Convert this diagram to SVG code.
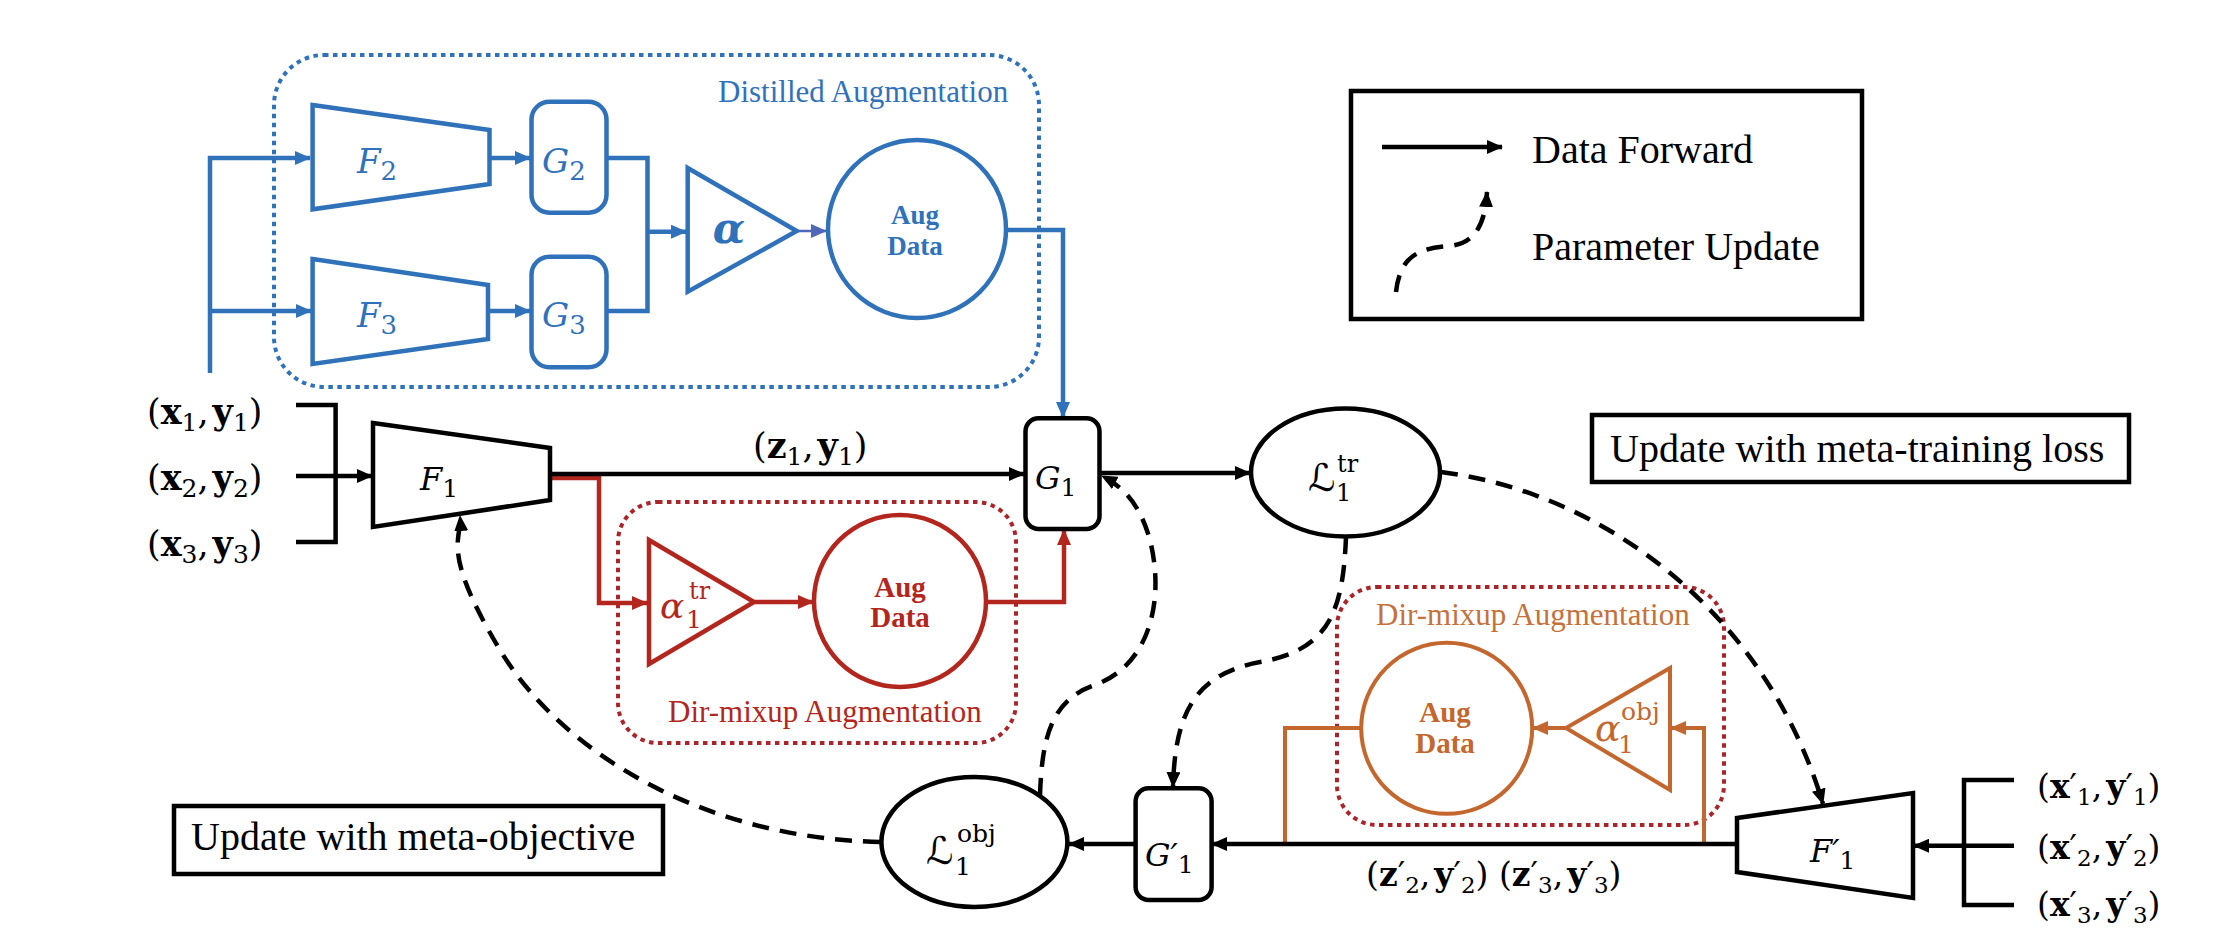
<svg xmlns="http://www.w3.org/2000/svg" width="2224" height="938" viewBox="0 0 2224 938">
<style>
.tnr{font-family:"Liberation Serif","Times New Roman",serif}
.m{font-family:"DejaVu Serif","DejaVu Sans",serif}
.it{font-style:italic}
.b{font-weight:bold}
.blk{fill:none;stroke:#000;stroke-width:4.5}
.blu{fill:none;stroke:#2f72ba;stroke-width:4.5}
.red{fill:none;stroke:#b3261e;stroke-width:4.5}
.org{fill:none;stroke:#c4672e;stroke-width:4}
.dash{fill:none;stroke:#000;stroke-width:4.5;stroke-dasharray:17 11}
.dotb{fill:none;stroke:#2f72ba;stroke-width:4;stroke-dasharray:4.5 4.5}
.dotr{fill:none;stroke:#a8262a;stroke-width:4;stroke-dasharray:4.5 4.5}
</style>
<defs>
<marker id="ak" viewBox="0 0 16 14" refX="15" refY="7" markerWidth="16" markerHeight="14" markerUnits="userSpaceOnUse" orient="auto"><path d="M0,0 L16,7 L0,14 z" fill="#000"/></marker>
<marker id="ab" viewBox="0 0 16 14" refX="15" refY="7" markerWidth="16" markerHeight="14" markerUnits="userSpaceOnUse" orient="auto"><path d="M0,0 L16,7 L0,14 z" fill="#2f72ba"/></marker>
<marker id="ap" viewBox="0 0 16 14" refX="15" refY="7" markerWidth="16" markerHeight="14" markerUnits="userSpaceOnUse" orient="auto"><path d="M0,0 L16,7 L0,14 z" fill="#5068b8"/></marker>
<marker id="ar" viewBox="0 0 16 14" refX="15" refY="7" markerWidth="16" markerHeight="14" markerUnits="userSpaceOnUse" orient="auto"><path d="M0,0 L16,7 L0,14 z" fill="#b3261e"/></marker>
<marker id="ao" viewBox="0 0 16 14" refX="15" refY="7" markerWidth="16" markerHeight="14" markerUnits="userSpaceOnUse" orient="auto"><path d="M0,0 L16,7 L0,14 z" fill="#c4672e"/></marker>
</defs>
<rect width="2224" height="938" fill="#fff"/>

<!-- group boxes -->
<g id="distilled-aug">
<rect class="dotb" x="274" y="55" width="765" height="332" rx="50"/>
<text class="tnr" x="718" y="102" font-size="31" fill="#2f72ba">Distilled Augmentation</text>
</g>
<g id="dirmixup-tr">
<rect class="dotr" x="618" y="502" width="398" height="241" rx="40"/>
<text class="tnr" x="668" y="722" font-size="31" fill="#b3261e">Dir-mixup Augmentation</text>
</g>
<g id="dirmixup-obj">
<rect class="dotr" x="1337" y="587" width="387" height="238" rx="40"/>
<text class="tnr" x="1376" y="625" font-size="31" fill="#c6703a">Dir-mixup Augmentation</text>
</g>

<!-- connectors -->
<g id="connectors">
<path class="blu" d="M210 373 V158 H310" marker-end="url(#ab)"/>
<path class="blu" d="M210 311 H311" marker-end="url(#ab)"/>
<path class="blu" d="M489.5 158 H530" marker-end="url(#ab)"/>
<path class="blu" d="M488 311 H530" marker-end="url(#ab)"/>
<path class="blu" d="M606.6 158 H647.5 V311 H606.6"/>
<path class="blu" d="M647.5 231.7 H686" stroke-width="6.5" marker-end="url(#ab)"/>
<path d="M796.7 231 H826" fill="none" stroke="#5068b8" stroke-width="2.5" marker-end="url(#ap)"/>
<path class="blu" d="M1006.7 230 H1063 V417" marker-end="url(#ab)"/>

<path class="red" d="M551 478 H599 V603 H647" marker-end="url(#ar)"/>
<path class="red" d="M754 602 H813" marker-end="url(#ar)"/>
<path class="red" d="M986 602 H1064 V530" marker-end="url(#ar)"/>

<path class="org" d="M1704 844 V728 H1671" marker-end="url(#ao)"/>
<path class="org" d="M1566 728 H1533" marker-end="url(#ao)"/>
<path class="org" d="M1361 728 H1285 V844"/>

<path class="blk" d="M296 405 H335.6 V542 H296"/>
<path class="blk" d="M296 476 H372" marker-end="url(#ak)"/>
<path class="blk" d="M550 474 H1024" marker-end="url(#ak)"/>
<path class="blk" d="M1099.5 473 H1250" marker-end="url(#ak)"/>
<path class="blk" d="M1737 844 H1212" marker-end="url(#ak)"/>
<path class="blk" d="M1135.6 844 H1069" marker-end="url(#ak)"/>
<path class="blk" d="M2014 780 H1964 V905 H2014"/>
<path class="blk" d="M2014 845.7 H1914" marker-end="url(#ak)"/>

<path class="dash" d="M880 842 C700 838 560 750 500 650 S462 540 460 516" marker-end="url(#ak)"/>
<path class="dash" d="M1040 795 C1042 740 1050 700 1095 685 C1150 665 1165 600 1150 540 C1140 505 1125 488 1102 476" marker-end="url(#ak)"/>
<path class="dash" d="M1346 537 C1343 610 1330 650 1260 662 C1190 675 1175 720 1173 787" marker-end="url(#ak)"/>
<path class="dash" d="M1441 472 C1600 492 1765 610 1823 804" marker-end="url(#ak)"/>
</g>

<!-- blue nodes -->
<g id="F2">
<polygon class="blu" points="312.6,105 489.5,130 489.5,184 312.6,209.3"/>
<text class="m it" x="357" y="173" font-size="34" fill="#2f72ba">F<tspan font-style="normal" font-size="26" dy="7">2</tspan></text>
</g>
<g id="F3">
<polygon class="blu" points="312.6,259 488,285 488,339 312.6,364"/>
<text class="m it" x="357" y="327" font-size="34" fill="#2f72ba">F<tspan font-style="normal" font-size="26" dy="7">3</tspan></text>
</g>
<g id="G2">
<rect class="blu" x="531.5" y="101.7" width="75" height="111" rx="18"/>
<text class="m it" x="542" y="173" font-size="34" fill="#2f72ba">G<tspan font-style="normal" font-size="26" dy="7">2</tspan></text>
</g>
<g id="G3">
<rect class="blu" x="531.5" y="256.7" width="75" height="110.6" rx="18"/>
<text class="m it" x="542" y="327" font-size="34" fill="#2f72ba">G<tspan font-style="normal" font-size="26" dy="7">3</tspan></text>
</g>
<g id="alpha">
<polygon class="blu" points="687.7,168 796.7,231 687.7,291.7"/>
<text class="m it b" x="729" y="243" font-size="42" fill="#2f72ba" text-anchor="middle">α</text>
</g>
<g id="aug-blue">
<circle class="blu" cx="917" cy="229" r="89"/>
<text class="tnr b" x="915" y="224" font-size="27" fill="#2f72ba" text-anchor="middle">Aug</text>
<text class="tnr b" x="915" y="255" font-size="27" fill="#2f72ba" text-anchor="middle">Data</text>
</g>

<!-- red nodes -->
<g id="alpha-tr">
<polygon class="red" points="649,540 754,602 649,664"/>
<text class="m" fill="#b3261e"><tspan class="it" x="660" y="618" font-size="36">α</tspan><tspan x="686" y="628" font-size="25">1</tspan><tspan x="689" y="599" font-size="24">tr</tspan></text>
</g>
<g id="aug-red">
<circle class="red" cx="900" cy="601" r="86"/>
<text class="tnr b" x="900" y="597" font-size="29" fill="#b3261e" text-anchor="middle">Aug</text>
<text class="tnr b" x="900" y="627" font-size="29" fill="#b3261e" text-anchor="middle">Data</text>
</g>

<!-- orange nodes -->
<g id="alpha-obj">
<polygon class="org" points="1670,668 1566,728 1670,790"/>
<text class="m" fill="#c4672e"><tspan class="it" x="1595" y="741" font-size="38">α</tspan><tspan x="1618" y="753" font-size="25">1</tspan><tspan x="1621" y="720" font-size="25">obj</tspan></text>
</g>
<g id="aug-orange">
<circle class="org" cx="1446.7" cy="728.3" r="85.5"/>
<text class="tnr b" x="1445" y="722" font-size="29" fill="#c4672e" text-anchor="middle">Aug</text>
<text class="tnr b" x="1445" y="753" font-size="29" fill="#c4672e" text-anchor="middle">Data</text>
</g>

<!-- black nodes -->
<g id="inputs-left">
<text class="m" x="147" y="424" font-size="35">(<tspan class="b">x</tspan><tspan font-size="25" dy="7">1</tspan><tspan dy="-7">,</tspan><tspan class="b" dx="4">y</tspan><tspan font-size="25" dy="7">1</tspan><tspan dy="-7">)</tspan></text>
<text class="m" x="147" y="490" font-size="35">(<tspan class="b">x</tspan><tspan font-size="25" dy="7">2</tspan><tspan dy="-7">,</tspan><tspan class="b" dx="4">y</tspan><tspan font-size="25" dy="7">2</tspan><tspan dy="-7">)</tspan></text>
<text class="m" x="147" y="556" font-size="35">(<tspan class="b">x</tspan><tspan font-size="25" dy="7">3</tspan><tspan dy="-7">,</tspan><tspan class="b" dx="4">y</tspan><tspan font-size="25" dy="7">3</tspan><tspan dy="-7">)</tspan></text>
</g>
<g id="F1">
<polygon class="blk" points="373,423 550,448 550,500 373,527"/>
<text class="m it" x="420" y="490" font-size="32">F<tspan font-style="normal" font-size="25" dy="7">1</tspan></text>
</g>
<text id="z1y1" class="m" x="753" y="458" font-size="35">(<tspan class="b">z</tspan><tspan font-size="25" dy="7">1</tspan><tspan dy="-7">,</tspan><tspan class="b" dx="4">y</tspan><tspan font-size="25" dy="7">1</tspan><tspan dy="-7">)</tspan></text>
<g id="G1">
<rect class="blk" x="1025.5" y="418.3" width="74" height="110.7" rx="13"/>
<text class="m it" x="1035" y="489" font-size="32">G<tspan font-style="normal" font-size="25" dy="7">1</tspan></text>
</g>
<g id="Ltr">
<ellipse class="blk" cx="1345.5" cy="472.5" rx="94.5" ry="64"/>
<text class="m"><tspan class="it" x="1308" y="491" font-size="38">ℒ</tspan><tspan x="1336" y="501" font-size="24">1</tspan><tspan x="1337" y="472" font-size="24">tr</tspan></text>
</g>
<g id="Lobj">
<ellipse class="blk" cx="974.4" cy="842" rx="93" ry="65"/>
<text class="m"><tspan class="it" x="926" y="864" font-size="38">ℒ</tspan><tspan x="955" y="875" font-size="25">1</tspan><tspan x="957" y="842" font-size="25">obj</tspan></text>
</g>
<g id="G1p">
<rect class="blk" x="1135.6" y="788.3" width="76" height="111.7" rx="13"/>
<text class="m it" x="1145" y="866" font-size="32">G′<tspan font-style="normal" font-size="25" dy="7">1</tspan></text>
</g>
<g id="F1p">
<polygon class="blk" points="1737,818 1913,793 1913,898 1737,872"/>
<text class="m it" x="1810" y="862" font-size="32">F′<tspan font-style="normal" font-size="25" dy="7">1</tspan></text>
</g>
<text id="zpyp" class="m" x="1366" y="886" font-size="33">(<tspan class="b">z</tspan>′<tspan font-size="23" dy="7">2</tspan><tspan dy="-7">,</tspan><tspan class="b" dx="4">y</tspan>′<tspan font-size="23" dy="7">2</tspan><tspan dy="-7">) (</tspan><tspan class="b">z</tspan>′<tspan font-size="23" dy="7">3</tspan><tspan dy="-7">,</tspan><tspan class="b" dx="4">y</tspan>′<tspan font-size="23" dy="7">3</tspan><tspan dy="-7">)</tspan></text>
<g id="inputs-right">
<text class="m" x="2037" y="798" font-size="33">(<tspan class="b">x</tspan>′<tspan font-size="23" dy="7">1</tspan><tspan dy="-7">,</tspan><tspan class="b" dx="4">y</tspan>′<tspan font-size="23" dy="7">1</tspan><tspan dy="-7">)</tspan></text>
<text class="m" x="2037" y="859" font-size="33">(<tspan class="b">x</tspan>′<tspan font-size="23" dy="7">2</tspan><tspan dy="-7">,</tspan><tspan class="b" dx="4">y</tspan>′<tspan font-size="23" dy="7">2</tspan><tspan dy="-7">)</tspan></text>
<text class="m" x="2037" y="916" font-size="33">(<tspan class="b">x</tspan>′<tspan font-size="23" dy="7">3</tspan><tspan dy="-7">,</tspan><tspan class="b" dx="4">y</tspan>′<tspan font-size="23" dy="7">3</tspan><tspan dy="-7">)</tspan></text>
</g>

<g id="note-train">
<rect class="blk" x="1592" y="415" width="537" height="67"/>
<text class="tnr" x="1610" y="462" font-size="40">Update with meta-training loss</text>
</g>
<g id="note-obj">
<rect class="blk" x="174" y="806" width="489" height="68"/>
<text class="tnr" x="191" y="850" font-size="40">Update with meta-objective</text>
</g>
<g id="legend">
<rect class="blk" x="1351" y="91" width="511" height="228"/>
<path class="blk" d="M1382 147 H1502" marker-end="url(#ak)"/>
<path class="dash" d="M1396 292 C1400 255 1420 248 1450 246 C1475 243 1485 225 1487 192" marker-end="url(#ak)"/>
<text class="tnr" x="1532" y="163" font-size="40">Data Forward</text>
<text class="tnr" x="1532" y="260" font-size="40">Parameter Update</text>
</g>
</svg>
